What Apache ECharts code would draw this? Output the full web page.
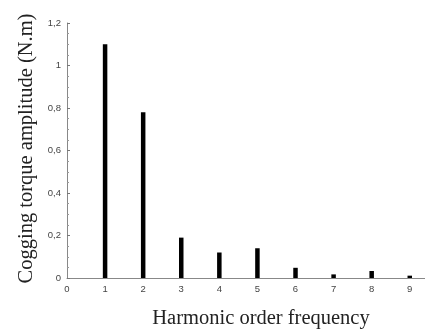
<!DOCTYPE html>
<html>
<head>
<meta charset="utf-8">
<script src="https://cdn.jsdelivr.net/npm/echarts@6/dist/echarts.min.js"></script>
<style>
  html, body { margin: 0; padding: 0; background: #fff; }
  #chart { width: 425px; height: 329px; }
</style>
</head>
<body>
<div id="chart"></div>
<script>
const harmonics = [1, 2, 3, 4, 5, 6, 7, 8, 9];
const amplitude = [1.10, 0.78, 0.19, 0.12, 0.14, 0.048, 0.017, 0.033, 0.011];

const chart = echarts.init(document.getElementById('chart'));
const labelStyle = { color: '#444', fontFamily: 'Arial, Liberation Sans', fontSize: 9.5 };
const commaFmt = (v) => String(Math.round(v * 10) / 10).replace('.', ',');
const titleStyle = { fontFamily: 'Liberation Serif', fontSize: 20.5, color: '#222' };

chart.setOption({
    animation: false,
    grid: { left: 67, right: 0, top: 23, bottom: 51, outerBoundsMode: 'none' },
    xAxis: {
        type: 'value',
        min: 0,
        max: 9.4,
        interval: 1,
        name: 'Harmonic order frequency',
        nameLocation: 'middle',
        nameGap: 30,
        nameTextStyle: Object.assign({}, titleStyle, { padding: [0, 0, 0, 30] }),
        axisLine: { lineStyle: { color: '#888', width: 1 } },
        axisTick: { show: false },
        splitLine: { show: false },
        axisLabel: Object.assign({}, labelStyle, {
            margin: 6,
            formatter: (v) => Number.isInteger(v) ? String(v) : ''
        })
    },
    yAxis: {
        type: 'value',
        min: 0,
        max: 1.2,
        interval: 0.2,
        name: 'Cogging torque amplitude (N.m)',
        nameLocation: 'middle',
        nameGap: 30,
        nameTextStyle: Object.assign({}, titleStyle, { padding: [0, 0, 0, 4] }),
        axisLine: { show: true, lineStyle: { color: '#888', width: 1 } },
        axisTick: { show: true, inside: true, length: 3, lineStyle: { color: '#777' } },
        minorTick: { show: true, splitNumber: 4, length: 2, lineStyle: { color: '#999' } },
        splitLine: { show: false },
        axisLabel: Object.assign({}, labelStyle, { margin: 6, formatter: commaFmt })
    },
    series: [{
        type: 'bar',
        barWidth: 4.5,
        itemStyle: { color: '#000' },
        data: harmonics.map((h, i) => [h, amplitude[i]])
    }]
});
</script>
</body>
</html>
